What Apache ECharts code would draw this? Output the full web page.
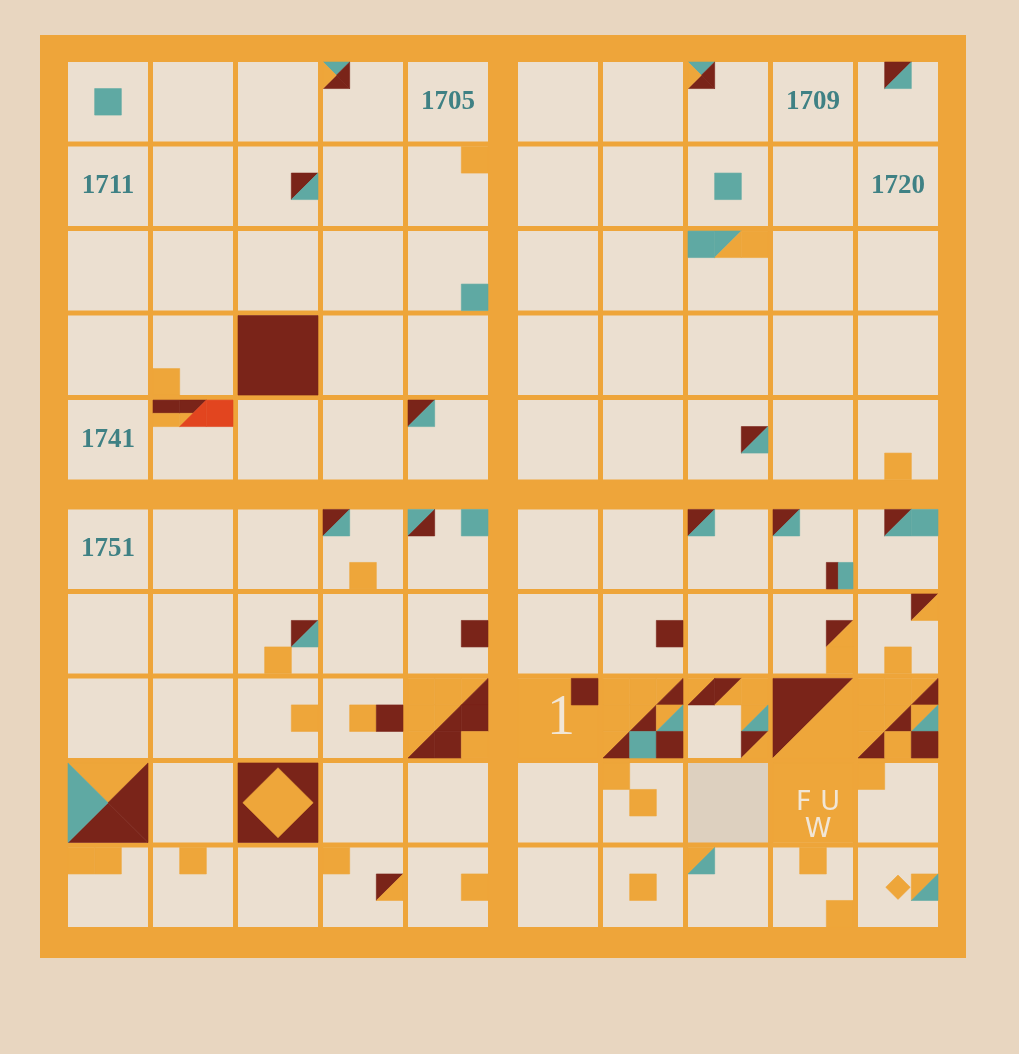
<!DOCTYPE html>
<html><head><meta charset="utf-8">
<style>html,body{margin:0;padding:0;background:#e8d6c0;}#c{width:1019px;height:1054px;}</style>
<script src="https://cdn.jsdelivr.net/npm/echarts@6/dist/echarts.min.js"></script>
</head><body><div id="c"></div>
<script>
// ---- data: one square per year 1701-1800 (10 per row), each split into 3x3 sub-squares ----
const firstYear = 1701;
const yearCount = 100;
// printed year labels
const yearLabels = [[1705,'1705'],[1709,'1709'],[1711,'1711'],[1720,'1720'],[1741,'1741'],[1751,'1751']];
// whole-square figures: [year, shape, colours...]
const cellShapes = [
  [1733,'full','D'],
  [1776,'full','O'],
  [1779,'dUL','D','O'],
  [1781,'quad','O','D','D','T'],
  [1783,'diaBox','D','O'],
  [1789,'full','O']
];
// tinted (greyer) squares
const tintedCells = [[1788,'#ddd0bf']];
// sub-square figures: [year, subCol, subRow, shape, colours...]
const subMarks = [
  [1701,1,1,'full','T'],
  [1704,0,0,'quad','T','D','D','O'],
  [1708,0,0,'quad','T','D','D','O'],
  [1710,1,0,'dUL','D','T'],
  [1713,2,1,'dUL','D','T'],
  [1715,2,0,'full','O'],
  [1718,1,1,'full','T'],
  [1725,2,2,'full','T'],
  [1728,0,0,'full','T'],[1728,1,0,'dUL','T','O'],[1728,2,0,'full','O'],
  [1732,0,2,'full','O'],
  [1742,0,0,'hs','D','O'],[1742,1,0,'dULh','D','O','R'],[1742,2,0,'full','R'],
  [1745,0,0,'dUL','D','T'],
  [1748,2,1,'dUL','D','T'],
  [1750,1,2,'full','O'],
  [1754,0,0,'dUL','D','T'],[1754,1,2,'full','O'],
  [1755,0,0,'dUL','T','D'],[1755,2,0,'full','T'],
  [1758,0,0,'dUL','D','T'],
  [1759,0,0,'dUL','D','T'],[1759,2,2,'vs','D','T'],
  [1760,1,0,'dUL','D','T'],[1760,2,0,'full','T'],
  [1763,2,1,'dUL','D','T'],[1763,1,2,'full','O'],
  [1765,2,1,'full','D'],
  [1767,2,1,'full','D'],
  [1769,2,1,'dUL','D','O'],[1769,2,2,'full','O'],
  [1770,2,0,'dUL','D','O'],[1770,1,2,'full','O'],
  [1773,2,1,'full','O'],
  [1774,1,1,'full','O'],[1774,2,1,'full','D'],
  [1775,0,0,'full','O'],[1775,1,0,'full','O'],[1775,2,0,'dUL','O','D'],
  [1775,0,1,'full','O'],[1775,1,1,'dUL','O','D'],[1775,2,1,'full','D'],
  [1775,0,2,'dUL','O','D'],[1775,1,2,'full','D'],[1775,2,2,'full','O'],
  [1776,2,0,'full','D'],
  [1777,0,0,'full','O'],[1777,1,0,'full','O'],[1777,2,0,'dUL','O','D'],
  [1777,0,1,'full','O'],[1777,1,1,'dUL','O','D'],[1777,2,1,'dUL','O','T'],
  [1777,0,2,'dUL','O','D'],[1777,1,2,'full','T'],[1777,2,2,'full','D'],
  [1778,0,0,'dUL','O','D'],[1778,1,0,'dUL','D','O'],[1778,2,0,'full','O'],
  [1778,2,1,'dUL','O','T'],[1778,2,2,'dUL','D','O'],
  [1780,0,0,'full','O'],[1780,1,0,'full','O'],[1780,2,0,'dUL','O','D'],
  [1780,0,1,'full','O'],[1780,1,1,'dUL','O','D'],[1780,2,1,'dUL','O','T'],
  [1780,0,2,'dUL','O','D'],[1780,1,2,'full','O'],[1780,2,2,'full','D'],
  [1787,0,0,'full','O'],[1787,1,1,'full','O'],
  [1790,0,0,'full','O'],
  [1791,0,0,'full','O'],[1791,1,0,'full','O'],
  [1792,1,0,'full','O'],
  [1794,0,0,'full','O'],[1794,2,1,'dUL','D','O'],
  [1795,2,1,'full','O'],
  [1797,1,1,'full','O'],
  [1798,0,0,'dUL','O','T'],
  [1799,1,0,'full','O'],[1799,2,2,'full','O'],
  [1800,1,1,'dia','O'],[1800,2,1,'dUL','O','T']
];
// cream lettering on orange squares
const cellTexts = [[1776,'1','big'],[1789,'F U\nW','small']];
</script>
<script>
const COLORS = {O:'#eea63a', T:'#5fa9a3', D:'#7a2419', R:'#e2451f', C:'#ebdfd0'};
const SHAPES = {
  full:[[[0,0],[1,0],[1,1],[0,1]]],
  dUL:[[[0,0],[1,0],[0,1]],[[1,0],[1,1],[0,1]]],
  hs:[[[0,0],[1,0],[1,.5],[0,.5]],[[0,.5],[1,.5],[1,1],[0,1]]],
  vs:[[[0,0],[.45,0],[.45,1],[0,1]],[[.45,0],[1,0],[1,1],[.45,1]]],
  quad:[[[0,0],[1,0],[.5,.5]],[[1,0],[1,1],[.5,.5]],[[1,1],[0,1],[.5,.5]],[[0,1],[0,0],[.5,.5]]],
  dULh:[[[0,0],[1,0],[.5,.5],[0,.5]],[[0,.5],[.5,.5],[0,1]],[[1,0],[1,1],[0,1]]],
  dia:[[[.5,.04],[.96,.5],[.5,.96],[.04,.5]]],
  diaBox:[[[0,0],[1,0],[1,1],[0,1]],[[.5,.06],[.94,.5],[.5,.94],[.06,.5]]]
};
const G = 0.1875, Q = 1.125, P = 3 + G;
function cellPos(i){ return i*P + (i>=5 ? Q-G : 0); }
function yearRC(y){ const k=y-firstYear; return [k%10, Math.floor(k/10)]; }

function shapeGroup(api, x, y, size, shape, cols){
  const a = api.coord([x,y]), b = api.coord([x+size,y+size]);
  const w = b[0]-a[0], h = b[1]-a[1];
  return {type:'group', children: SHAPES[shape].map((poly,i)=>{
    const fill = COLORS[cols[i]] || cols[i];
    return {type:'polygon', shape:{points: poly.map(p=>[a[0]+p[0]*w, a[1]+p[1]*h])},
      style:{fill, stroke: fill, lineWidth: 0.6}};
  })};
}

const cellData = [];
for (let k=0;k<yearCount;k++){ const [c,r]=yearRC(firstYear+k); cellData.push([cellPos(c), cellPos(r), firstYear+k]); }
const tintMap = Object.fromEntries(tintedCells);

const chart = echarts.init(document.getElementById('c'), null, {renderer:'canvas'});
chart.setOption({
  backgroundColor:'#e8d6c0',
  animation:false,
  grid:{left:40, top:35, width:926, height:923, show:true, backgroundColor:'#eea53a', borderWidth:0},
  xAxis:{type:'value', min:-1.05, max:33.675, show:false},
  yAxis:{type:'value', min:-1.02, max:33.795, inverse:true, show:false},
  series:[
    {type:'custom', name:'years', data:cellData, renderItem:(params, api)=>{
      const x=api.value(0), y=api.value(1), yr=api.value(2);
      const a=api.coord([x,y]), b=api.coord([x+3,y+3]);
      return {type:'rect', shape:{x:a[0], y:a[1], width:b[0]-a[0], height:b[1]-a[1]},
        style:{fill: tintMap[yr] || COLORS.C}};
    }},
    {type:'custom', name:'squares', data:cellShapes.map(m=>{const [c,r]=yearRC(m[0]); return [cellPos(c),cellPos(r)];}),
      renderItem:(params, api)=>{
        const m = cellShapes[params.dataIndex];
        return shapeGroup(api, api.value(0), api.value(1), 3, m[1], m.slice(2));
      }},
    {type:'custom', name:'events', data:subMarks.map(m=>{const [c,r]=yearRC(m[0]); return [cellPos(c)+m[1], cellPos(r)+m[2]];}),
      renderItem:(params, api)=>{
        const m = subMarks[params.dataIndex];
        return shapeGroup(api, api.value(0), api.value(1), 1, m[3], m.slice(4));
      }},
    {type:'custom', name:'labels', data:yearLabels.map(m=>{const [c,r]=yearRC(m[0]); return [cellPos(c)+1.5, cellPos(r)+1.5];}),
      renderItem:(params, api)=>{
        const p = api.coord([api.value(0), api.value(1)]);
        return {type:'text', style:{text: yearLabels[params.dataIndex][1], x:p[0], y:p[1],
          fill:'#3f8184', font:'bold 27px "Liberation Serif"', align:'center', verticalAlign:'middle'}};
      }},
    {type:'custom', name:'letters', data:cellTexts.map(m=>{const [c,r]=yearRC(m[0]); return [cellPos(c)+1.5, cellPos(r)+(m[2]==='big'?1.55:1.0)];}),
      renderItem:(params, api)=>{
        const m = cellTexts[params.dataIndex];
        const p = api.coord([api.value(0), api.value(1)]);
        const big = m[2]==='big';
        return {type:'text', style:{text:m[1], x:p[0]+(big?3:5), y:p[1],
          fill:'#f1e6d6', font: big ? '56px "Liberation Serif"' : '27px "DejaVu Sans"',
          lineHeight: 27, align:'center', verticalAlign: big?'middle':'top'}};
      }}
  ]
});
</script>
</body></html>
